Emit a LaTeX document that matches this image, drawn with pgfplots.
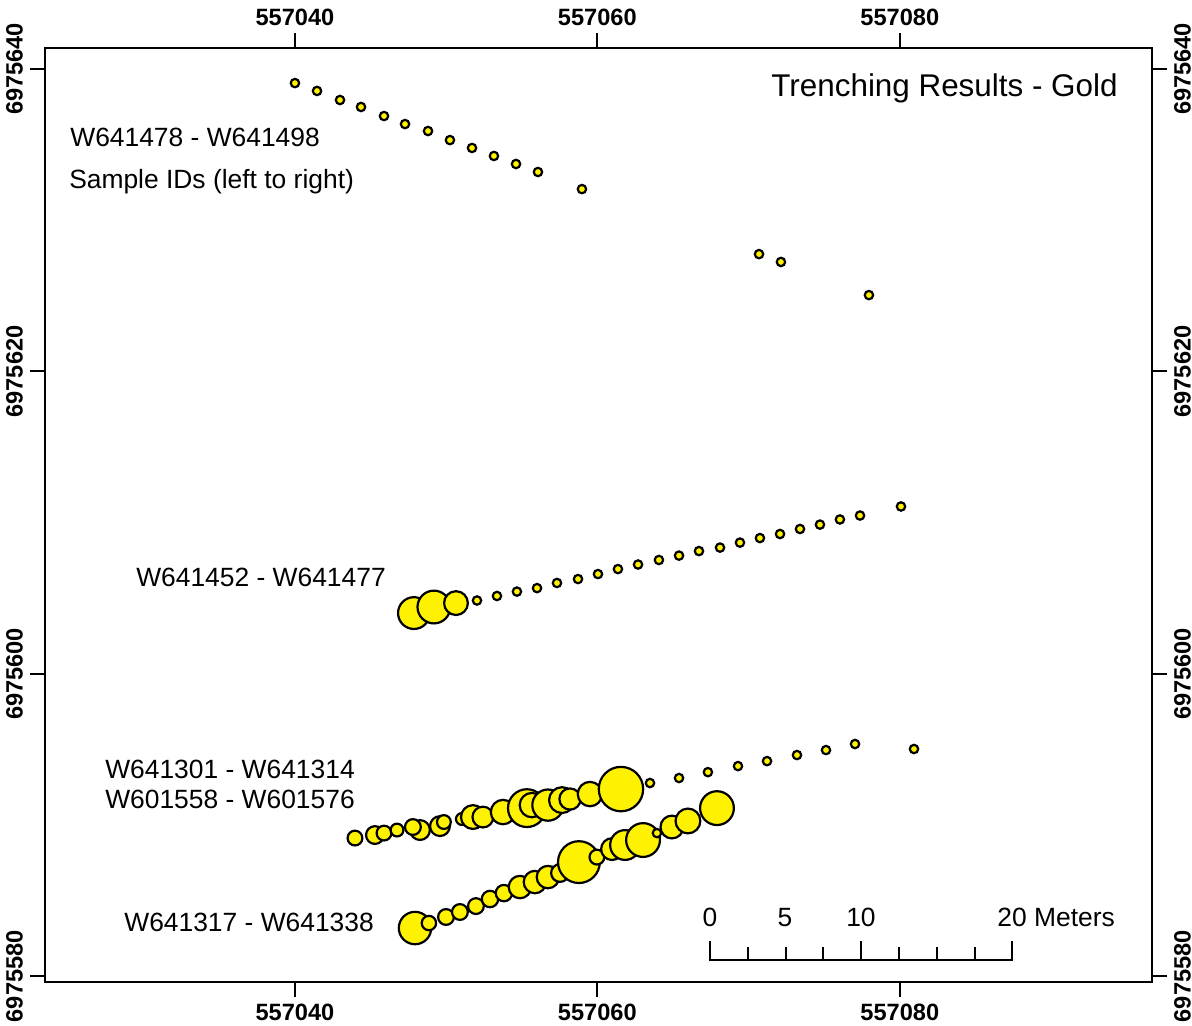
\documentclass[border=0pt]{standalone}
\usepackage{fontspec}
\setmainfont{Liberation Sans}
\usepackage{pgfplots}
\pgfplotsset{compat=1.18}
\usepackage{pgfplotstable}

% Coordinates are offsets: x = Easting - 557000, y = Northing - 6975500; r = symbol radius (px)
\pgfplotstableread{
x y r
40.00 139.07 5.3
41.46 138.55 5.3
42.98 137.95 5.3
44.37 137.49 5.3
45.89 136.89 5.3
47.28 136.36 5.3
48.80 135.90 5.3
50.25 135.30 5.3
51.71 134.78 5.3
53.16 134.25 5.3
54.62 133.72 5.3
56.07 133.19 5.3
58.98 132.06 5.3
70.69 127.76 5.3
72.14 127.24 5.3
77.96 125.05 5.3
}\trenchTop

\pgfplotstableread{
x y r
47.87 104.02 17
49.19 104.42 17.5
50.65 104.68 13
52.04 104.85 5.3
53.36 105.15 5.3
54.68 105.44 5.3
56.01 105.67 5.3
57.33 106.01 5.3
58.72 106.27 5.3
60.04 106.60 5.3
61.36 106.93 5.3
62.69 107.23 5.3
64.07 107.53 5.3
65.40 107.82 5.3
66.72 108.12 5.3
68.11 108.35 5.3
69.43 108.68 5.3
70.75 108.98 5.3
72.08 109.25 5.3
73.40 109.58 5.3
74.72 109.87 5.3
76.04 110.21 5.3
77.37 110.47 5.3
80.08 111.07 5.3
}\trenchMid

\pgfplotstableread{
x y r
43.97 89.14 8.5
45.29 89.34 10
45.89 89.47 8.5
46.75 89.67 7.5
48.27 89.67 11
47.80 89.87 9
49.59 89.93 11
49.85 90.20 8
51.04 90.40 7
51.77 90.53 13
52.43 90.53 11.5
53.76 90.86 13.3
55.34 91.12 20
55.67 91.32 13.3
56.73 91.32 16.7
57.66 91.65 14
58.19 91.72 11.7
59.51 92.05 13.3
61.56 92.38 23.3
63.48 92.78 5.3
65.40 93.11 5.3
67.31 93.50 5.3
69.30 93.90 5.3
71.22 94.23 5.3
73.20 94.63 5.3
75.12 94.96 5.3
77.04 95.36 5.3
80.94 95.03 5.3
}\trenchLowA

\pgfplotstableread{
x y r
47.94 83.19 17.3
48.86 83.52 8.3
49.99 83.92 9
50.91 84.25 9
51.97 84.64 9
52.90 85.11 9.3
53.82 85.50 9.3
54.88 85.90 12.3
55.87 86.23 12.3
56.73 86.56 12.3
57.53 86.83 10
58.78 87.55 22
59.97 87.88 8.5
60.97 88.41 12
61.83 88.68 16
63.02 89.01 18
63.94 89.47 5.3
64.93 89.87 12.5
65.99 90.27 13.5
67.91 91.12 18
}\trenchLowB

\pgfplotsset{
  mapaxis/.style={
    at={(0,0)}, anchor=south west, scale only axis,
    width=553.5pt, height=467pt,
    xmin=23.47, xmax=96.68, ymin=79.62, ymax=141.39,
    xtick={40,60,80}, ytick={80,100,120,140},
    xticklabels={557040,557060,557080},
    yticklabels={6975580,6975600,6975620,6975640},
    minor tick num=0,
    tick align=outside, major tick length=7.5pt,
    tick style={black, line width=1pt},
    axis line style={black, line width=1pt},
    ticklabel style={font=\fontsize{11.8}{14}\selectfont\bfseries},
  },
  bub/.style={scatter, only marks, mark=*, line width=1.1pt,
    scatter/use mapped color={draw=black, fill=yellow, line width=1.1pt},
    visualization depends on={\thisrow{r} \as \rad},
    scatter/@pre marker code/.append style={/tikz/line width=1.1pt, /tikz/mark size={0.5*\rad*1pt-0.55pt}}},
}

\begin{document}
\begin{tikzpicture}
\begin{axis}[mapaxis, xtick pos=both, ytick pos=both,
  xticklabel pos=lower, yticklabel pos=left,
  yticklabel style={rotate=90, anchor=south},
  clip=false]
\addplot[bub] table[x=x, y=y] {\trenchTop};
\addplot[bub] table[x=x, y=y] {\trenchMid};
\addplot[bub] table[x=x, y=y] {\trenchLowA};
\addplot[bub] table[x=x, y=y] {\trenchLowB};

\node[anchor=base east, inner sep=0, font=\fontsize{15.7}{18}\selectfont] at (axis cs:94.43,138.17) {Trenching Results - Gold};
\begin{scope}[every node/.style={inner sep=0, font=\fontsize{13.2}{15}\selectfont}]
\node[anchor=base west] at (axis cs:25.12,134.86) {W641478 - W641498};
\node[anchor=base west] at (axis cs:25.05,132.11) {Sample IDs (left to right)};
\node[anchor=base west] at (axis cs:29.48,105.81) {W641452 - W641477};
\node[anchor=base west] at (axis cs:27.43,93.11) {W641301 - W641314};
\node[anchor=base west] at (axis cs:27.43,91.12) {W601558 - W601576};
\node[anchor=base west] at (axis cs:28.69,82.94) {W641317 - W641338};
% scale bar
\draw[line width=1pt] (axis cs:67.45,82.33) -- (axis cs:67.45,81.07) -- (axis cs:87.45,81.07) -- (axis cs:87.45,82.33);
\draw[line width=1pt] (axis cs:77.45,81.07) -- (axis cs:77.45,82.33);
\draw[line width=1pt] (axis cs:69.95,81.07) -- (axis cs:69.95,81.93);
\draw[line width=1pt] (axis cs:72.45,81.07) -- (axis cs:72.45,81.93);
\draw[line width=1pt] (axis cs:74.95,81.07) -- (axis cs:74.95,81.93);
\draw[line width=1pt] (axis cs:79.95,81.07) -- (axis cs:79.95,81.93);
\draw[line width=1pt] (axis cs:82.45,81.07) -- (axis cs:82.45,81.93);
\draw[line width=1pt] (axis cs:84.95,81.07) -- (axis cs:84.95,81.93);
\node[anchor=base] at (axis cs:67.45,83.27) {0};
\node[anchor=base] at (axis cs:72.41,83.27) {5};
\node[anchor=base] at (axis cs:77.43,83.27) {10};
\node[anchor=base west] at (axis cs:86.43,83.27) {20 Meters};
\end{scope}
\end{axis}
\begin{axis}[mapaxis, xtick pos=both, ytick pos=both,
  xticklabel pos=upper, yticklabel pos=right,
  yticklabel style={rotate=90, anchor=north}]
\end{axis}
\pgfresetboundingbox
\useasboundingbox (-22.5pt,-21.5pt) rectangle (573.5pt,491pt);
\end{tikzpicture}
\end{document}
